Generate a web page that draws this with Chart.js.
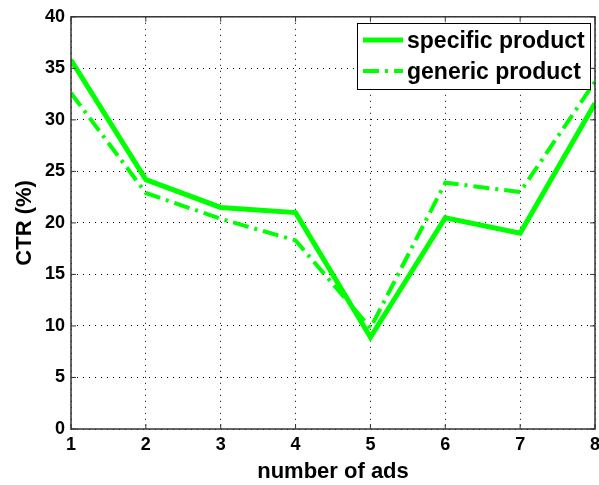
<!DOCTYPE html>
<html>
<head>
<meta charset="utf-8">
<script src="https://cdn.jsdelivr.net/npm/chart.js@4"></script>
<style>
  html, body { margin: 0; padding: 0; background: #fff; }
  #wrap { width: 599px; height: 485px; }
</style>
</head>
<body>
<div id="wrap"><canvas id="ctrChart" width="599" height="485"></canvas></div>
<script>
const numAds = [1, 2, 3, 4, 5, 6, 7, 8];
const specificProduct = [35.8, 24.2, 21.5, 21.0, 8.9, 20.5, 19.0, 31.6];
const genericProduct = [32.6, 22.9, 20.4, 18.3, 9.8, 23.9, 23.0, 33.7];
const seriesLabels = ['specific product', 'generic product'];

const green = '#00ff00';
const fontFamily = '"Liberation Sans", Arial, Helvetica, sans-serif';

// MATLAB-like box, inward ticks and legend inside the plot
const matlabFrame = {
  id: 'matlabFrame',
  afterDatasetsDraw(chart) {
    const { ctx, chartArea: a, scales } = chart;
    ctx.save();
    ctx.strokeStyle = '#333';
    ctx.lineWidth = 1.5;
    ctx.setLineDash([]);
    ctx.strokeRect(a.left, a.top, a.right - a.left, a.bottom - a.top);
    ctx.lineWidth = 1;
    const t = 5;
    scales.x.ticks.forEach(tk => {
      const x = scales.x.getPixelForValue(tk.value);
      ctx.beginPath();
      ctx.moveTo(x, a.bottom); ctx.lineTo(x, a.bottom - t);
      ctx.moveTo(x, a.top); ctx.lineTo(x, a.top + t);
      ctx.stroke();
    });
    scales.y.ticks.forEach(tk => {
      const y = scales.y.getPixelForValue(tk.value);
      ctx.beginPath();
      ctx.moveTo(a.left, y); ctx.lineTo(a.left + t, y);
      ctx.moveTo(a.right, y); ctx.lineTo(a.right - t, y);
      ctx.stroke();
    });

    // legend
    const bx = 357, by = 23, bw = 233, bh = 66;
    ctx.fillStyle = '#fff';
    ctx.fillRect(bx, by, bw, bh);
    ctx.strokeStyle = '#000';
    ctx.lineWidth = 1;
    ctx.strokeRect(bx + 0.5, by + 0.5, bw, bh);
    const rows = [40, 71];
    chart.data.datasets.forEach((ds, i) => {
      const y = rows[i];
      ctx.strokeStyle = ds.borderColor;
      ctx.lineWidth = ds.borderWidth;
      ctx.setLineDash(ds.borderDash || []);
      ctx.beginPath();
      ctx.moveTo(363, y); ctx.lineTo(403, y);
      ctx.stroke();
      ctx.setLineDash([]);
      ctx.fillStyle = '#000';
      ctx.font = 'bold 23px ' + fontFamily;
      ctx.textBaseline = 'middle';
      ctx.textAlign = 'left';
      ctx.fillText(ds.label, 407, y + 2);
    });
    ctx.restore();
  }
};

new Chart(document.getElementById('ctrChart'), {
  type: 'line',
  data: {
    datasets: [
      {
        label: seriesLabels[0],
        data: numAds.map((x, i) => ({ x, y: specificProduct[i] })),
        borderColor: green,
        borderWidth: 5,
        pointRadius: 0,
        tension: 0
      },
      {
        label: seriesLabels[1],
        data: numAds.map((x, i) => ({ x, y: genericProduct[i] })),
        borderColor: green,
        borderWidth: 4,
        borderDash: [16, 6, 3, 6],
        pointRadius: 0,
        tension: 0
      }
    ]
  },
  options: {
    responsive: false,
    animation: false,
    layout: { padding: { top: 15, right: 4, left: 0, bottom: 0 } },
    plugins: {
      legend: { display: false },
      tooltip: { enabled: false }
    },
    scales: {
      x: {
        type: 'linear',
        min: 1,
        max: 8,
        afterFit: s => { s.height = 56; s.paddingRight = 0; s.paddingLeft = 0; },
        grid: {
          color: '#000',
          lineWidth: 1,
          drawTicks: false
        },
        border: { display: false, dash: [1, 5] },
        ticks: {
          stepSize: 1,
          padding: 5,
          color: '#000',
          font: { family: fontFamily, size: 18, weight: 'bold' }
        },
        title: {
          display: true,
          text: 'number of ads',
          color: '#000',
          padding: { top: 0, bottom: 0 },
          font: { family: fontFamily, size: 22, weight: 'bold' }
        }
      },
      y: {
        min: 0,
        max: 40,
        afterFit: s => { s.width = 71; },
        grid: {
          color: '#000',
          lineWidth: 1,
          drawTicks: false
        },
        border: { display: false, dash: [1, 5] },
        ticks: {
          stepSize: 5,
          padding: 6,
          color: '#000',
          font: { family: fontFamily, size: 18, weight: 'bold' }
        },
        title: {
          display: true,
          text: 'CTR (%)',
          color: '#000',
          padding: { top: 12, bottom: 0 },
          font: { family: fontFamily, size: 22, weight: 'bold' }
        }
      }
    }
  },
  plugins: [matlabFrame]
});
</script>
</body>
</html>
